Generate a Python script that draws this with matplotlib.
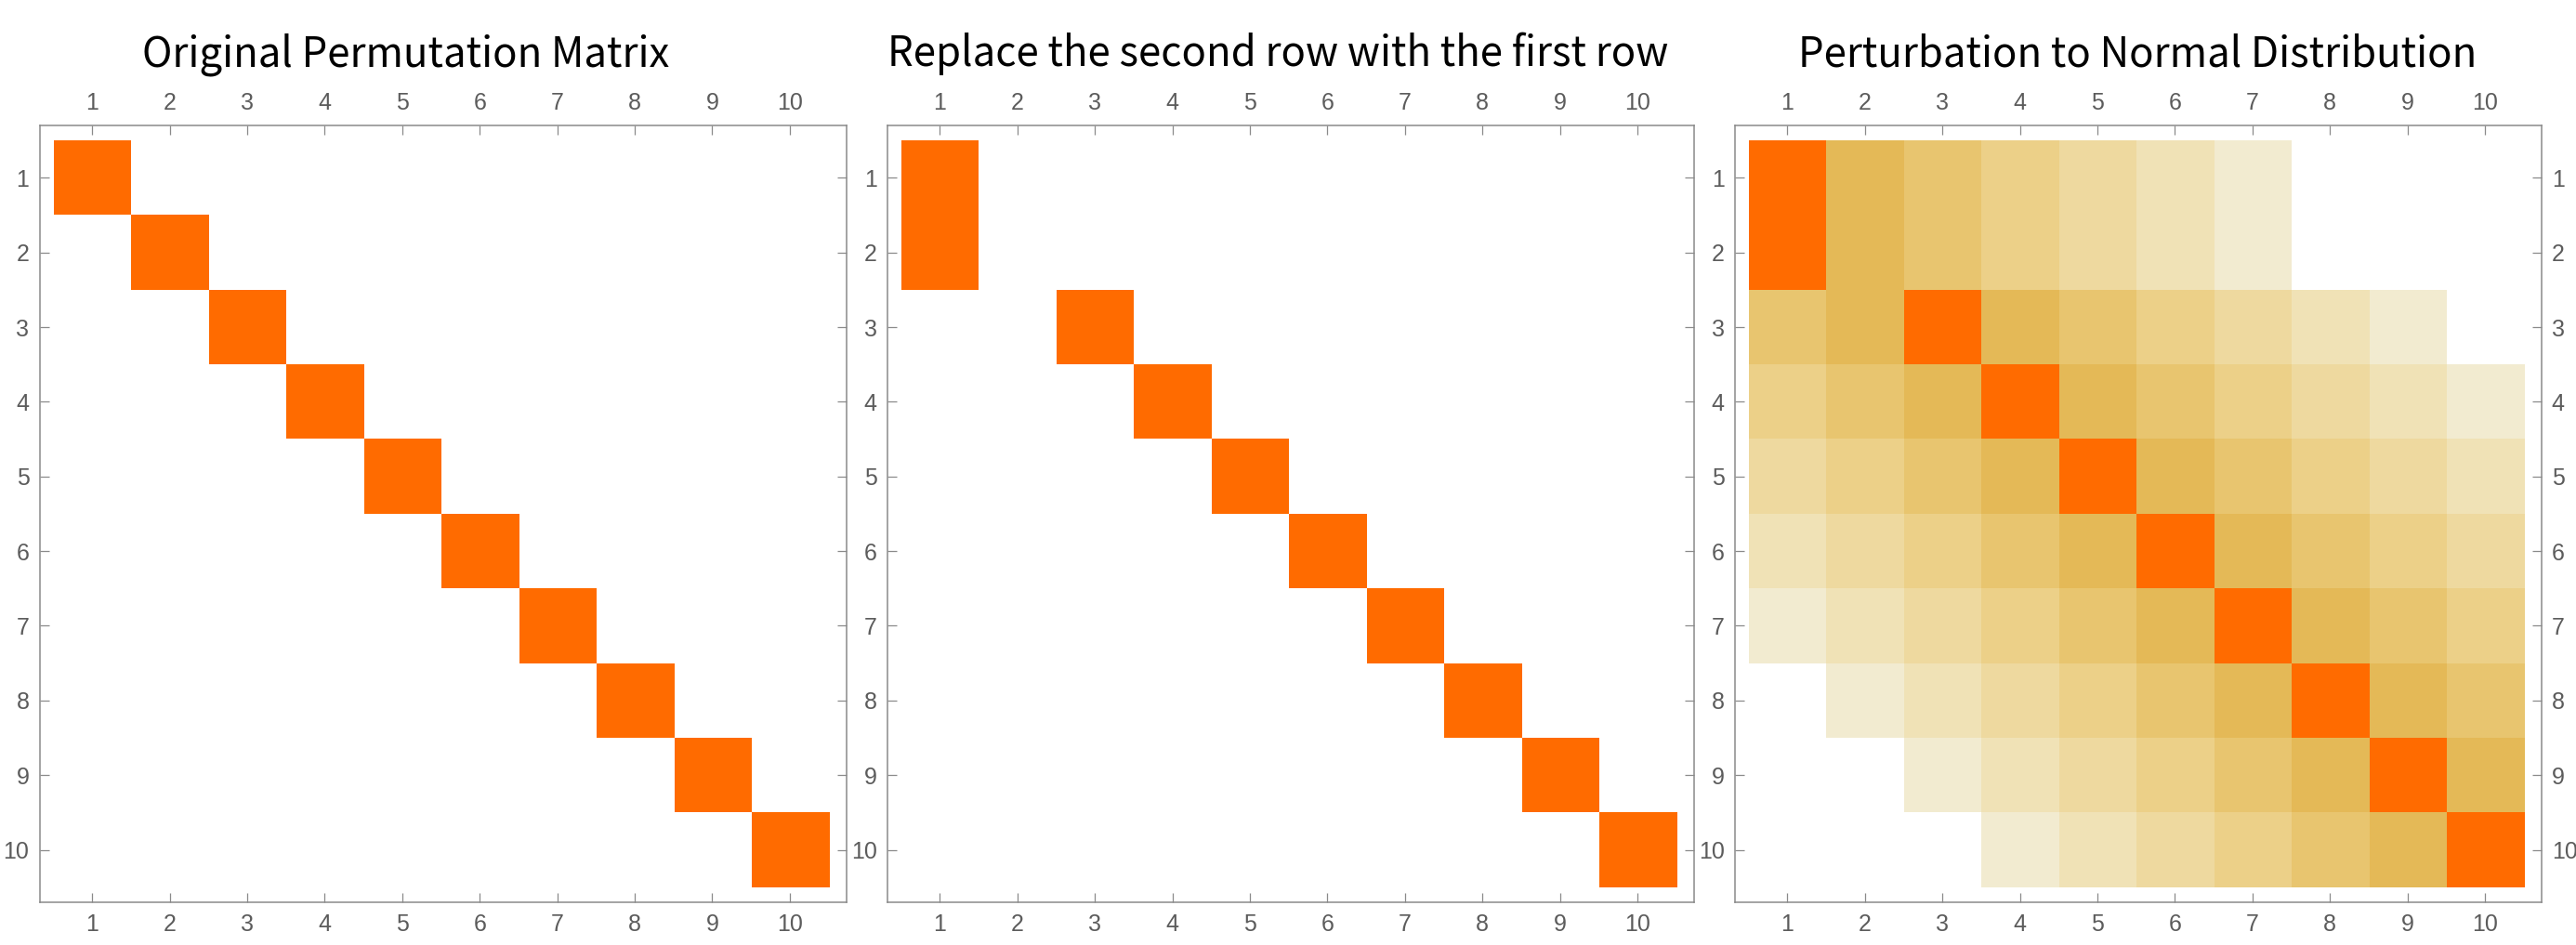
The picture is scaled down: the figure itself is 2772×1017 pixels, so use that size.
import numpy as np
import matplotlib
matplotlib.use("Agg")
import matplotlib.pyplot as plt
from matplotlib.colors import to_rgb

# ---- data ----
n = 10
tick_labels = [str(i) for i in range(1, n + 1)]

# column (1-based) holding the 1 in each row
perm_original = [1, 2, 3, 4, 5, 6, 7, 8, 9, 10]
perm_replaced = [1, 1, 3, 4, 5, 6, 7, 8, 9, 10]

# perturbed matrix: 0 = peak, 1..6 = fading weight, -1 = empty
perturb_levels = [
    [0, 1, 2, 3, 4, 5, 6, -1, -1, -1],
    [0, 1, 2, 3, 4, 5, 6, -1, -1, -1],
    [2, 1, 0, 1, 2, 3, 4, 5, 6, -1],
    [3, 2, 1, 0, 1, 2, 3, 4, 5, 6],
    [4, 3, 2, 1, 0, 1, 2, 3, 4, 5],
    [5, 4, 3, 2, 1, 0, 1, 2, 3, 4],
    [6, 5, 4, 3, 2, 1, 0, 1, 2, 3],
    [-1, 6, 5, 4, 3, 2, 1, 0, 1, 2],
    [-1, -1, 6, 5, 4, 3, 2, 1, 0, 1],
    [-1, -1, -1, 6, 5, 4, 3, 2, 1, 0],
]
level_colors = ["#ff6b00", "#e4b957", "#e8c56f", "#ecd088",
                "#eed99f", "#f0e2b6", "#f2ebd0"]

titles = ["Original Permutation Matrix",
          "Replace the second row with the first row",
          "Perturbation to Normal Distribution"]

# ---- style ----
ORANGE = "#ff6b00"
FRAME = "#8a8a8a"
TICKTXT = "#5c5c5c"
W, H = 2772, 1017


def perm_to_rgb(cols):
    img = np.ones((n, n, 3))
    for r, c in enumerate(cols):
        img[r, c - 1] = to_rgb(ORANGE)
    return img


def levels_to_rgb(levels):
    img = np.ones((n, n, 3))
    for r, row in enumerate(levels):
        for c, lv in enumerate(row):
            if lv >= 0:
                img[r, c] = to_rgb(level_colors[lv])
    return img


images = [perm_to_rgb(perm_original),
          perm_to_rgb(perm_replaced),
          levels_to_rgb(perturb_levels)]

fig = plt.figure(figsize=(W / 100, H / 100), dpi=100)

lefts = [42.6, 954.8, 1866.7]
ax_w = 868
top_px, bot_px = 135, 971
title_x = [437, 1375, 2300]

for i, img in enumerate(images):
    ax = fig.add_axes([lefts[i] / W, 1 - bot_px / H, ax_w / W, (bot_px - top_px) / H])
    ax.imshow(img, extent=(0.5, n + 0.5, n + 0.5, 0.5),
              interpolation="nearest", aspect="auto")
    ax.set_xlim(0.321, 10.728)
    ax.set_ylim(10.703, 0.298)

    ax.set_xticks(range(1, n + 1))
    ax.set_yticks(range(1, n + 1))
    ax.set_xticklabels(tick_labels)
    ax.set_yticklabels(tick_labels)

    ax.tick_params(which="major", direction="in", length=7, width=0.9,
                   color=FRAME, labelcolor=TICKTXT, labelsize=18,
                   top=True, right=True, labeltop=True, labelbottom=True,
                   labelleft=True, labelright=(i == 2))
    ax.tick_params(axis="x", pad=9)
    ax.tick_params(axis="y", pad=8)
    for lab in ax.get_xticklabels() + ax.get_yticklabels():
        lab.set_family("Liberation Sans")
    for sp in ax.spines.values():
        sp.set_color(FRAME)
        sp.set_linewidth(1.1)

    fig.text(title_x[i] / W, 1 - 71 / H, titles[i], ha="center", va="baseline",
             fontsize=31.5, color="black", family=["Noto Sans CJK SC", "DejaVu Sans"])

fig.savefig("out.png", dpi=100, facecolor="white")
